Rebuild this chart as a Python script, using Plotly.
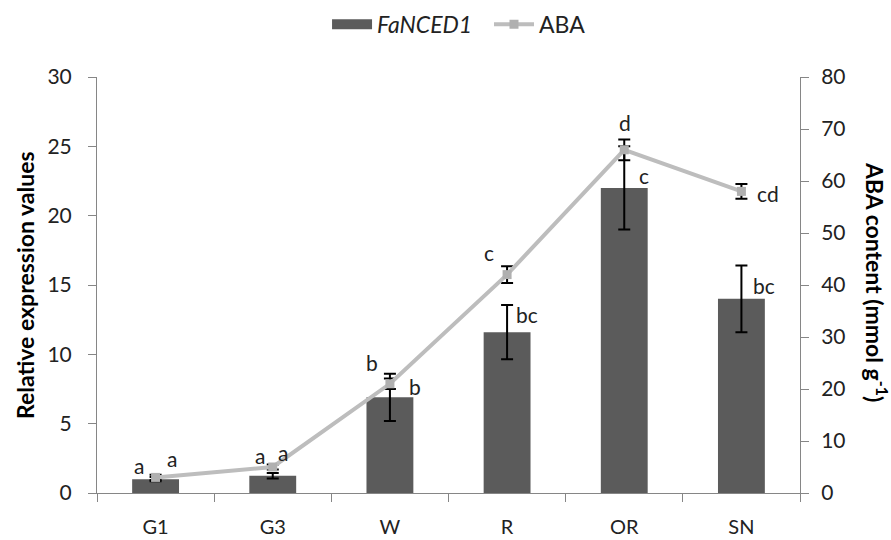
import plotly.graph_objects as go
from plotly.subplots import make_subplots

categories = ["G1", "G3", "W", "R", "OR", "SN"]
expr_values = [1.0, 1.25, 6.9, 11.6, 22.0, 14.0]
expr_errors = [0.15, 0.2, 1.7, 1.95, 3.0, 2.4]
aba_values = [3.0, 5.0, 21.0, 42.0, 66.0, 58.0]
aba_errors = [0.5, 0.5, 1.0, 1.6, 2.0, 1.4]
expr_letters = ["a", "a", "b", "bc", "c", "bc"]
aba_letters = ["a", "a", "b", "c", "d", "cd"]

# label offsets (pixels) - styling only
expr_shift = [(-17, 12), (-13, 17), (25, -13), (20, -9), (20, -29), (23, -20)]
aba_shift = [(16, 19), (10, 15), (-18, 21), (-18, 22), (1, 27), (27, -2)]

FONT = "Lato, 'Open Sans', sans-serif"
AXIS_COL = "#868686"
BAR_COL = "#5b5b5b"
LINE_COL = "#bdbdbd"
FS = 21

fig = make_subplots(specs=[[{"secondary_y": True}]])

fig.add_trace(go.Bar(
    x=categories, y=expr_values, name="<i>FaNCED1</i>", showlegend=False,
    marker=dict(color=BAR_COL, line=dict(width=0)), width=0.4,
    error_y=dict(type="data", array=expr_errors, color="black", thickness=2, width=6),
), secondary_y=False)

# legend entry for the bars (wide rectangle swatch)
fig.add_trace(go.Scatter(
    x=[None], y=[None], name="<i>FaNCED1</i>  ", mode="lines",
    line=dict(color=BAR_COL, width=16),
), secondary_y=False)

fig.add_trace(go.Scatter(
    x=categories, y=aba_values, name="ABA", mode="lines+markers",
    line=dict(color=LINE_COL, width=4),
    marker=dict(symbol="square", size=9, color="#b0b0b0"),
    error_y=dict(type="data", array=aba_errors, color="black", thickness=2, width=6),
), secondary_y=True)

annotations = []
for i, c in enumerate(categories):
    annotations.append(dict(
        x=c, y=expr_values[i] + expr_errors[i], xref="x", yref="y",
        text=expr_letters[i], showarrow=False,
        xshift=expr_shift[i][0], yshift=expr_shift[i][1],
        font=dict(size=FS, color="#222222", family=FONT),
    ))
    annotations.append(dict(
        x=c, y=aba_values[i], xref="x", yref="y2",
        text=aba_letters[i], showarrow=False,
        xshift=aba_shift[i][0], yshift=aba_shift[i][1],
        font=dict(size=FS, color="#222222", family=FONT),
    ))

annotations.append(dict(
    x=1.0, y=0.5, xref="paper", yref="paper", xanchor="center", yanchor="middle",
    xshift=77, yshift=3, text="<b>ABA content (mmol g<sup>-1</sup>)</b>", textangle=90,
    showarrow=False, font=dict(size=FS + 2, color="black", family=FONT),
))
annotations.append(dict(
    x=0.0, y=0.5, xref="paper", yref="paper", xanchor="center", yanchor="middle",
    xshift=-72, text="<b>Relative expression values</b>", textangle=-90,
    showarrow=False, font=dict(size=FS + 2, color="black", family=FONT),
))

fig.update_layout(
    width=891, height=540,
    margin=dict(l=97, r=91, t=77, b=47, autoexpand=False),
    paper_bgcolor="white", plot_bgcolor="white",
    font=dict(family=FONT, size=FS, color="#222222"),
    showlegend=True,
    legend=dict(orientation="h", x=0.515, xanchor="center", y=0.955, yanchor="middle",
                yref="container", font=dict(size=FS + 2, color="#222222"),
                traceorder="normal", itemwidth=40),
    annotations=annotations,
)

fig.update_xaxes(
    domain=[0, 1],
    showline=True, linecolor=AXIS_COL, linewidth=1,
    ticks="outside", tickson="boundaries", ticklen=8, tickcolor=AXIS_COL,
    ticklabelstandoff=16,
    showgrid=False, tickfont=dict(size=FS - 1),
)
fig.update_yaxes(
    range=[0, 30], dtick=5, showline=True, linecolor=AXIS_COL, linewidth=1,
    ticks="outside", ticklen=8, tickcolor=AXIS_COL, showgrid=False,
    ticklabelstandoff=12,
    zeroline=False, tickfont=dict(size=FS),
    secondary_y=False,
)
fig.update_yaxes(
    range=[0, 80], dtick=10, showline=True, linecolor=AXIS_COL, linewidth=1,
    ticks="outside", ticklen=8, tickcolor=AXIS_COL, showgrid=False,
    ticklabelstandoff=8,
    zeroline=False, tickfont=dict(size=FS),
    secondary_y=True,
)

fig.write_html("out.html")
